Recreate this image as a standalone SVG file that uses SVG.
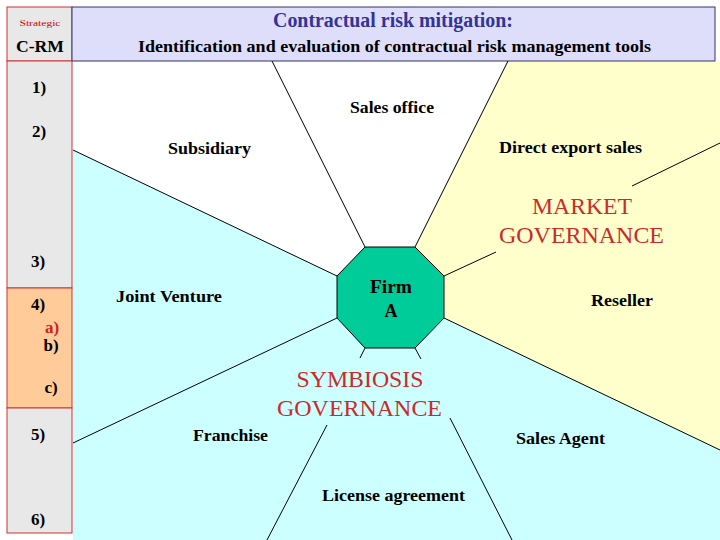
<svg xmlns="http://www.w3.org/2000/svg" width="720" height="540" viewBox="0 0 720 540" font-family="'Liberation Serif', 'Times New Roman', 'DejaVu Serif', serif">
<style>
text{font-family:'Liberation Serif', 'Times New Roman', 'DejaVu Serif', serif;}
.b{font-weight:bold;fill:#000;font-size:17px;}
.n{font-weight:bold;fill:#000;font-size:17px;text-anchor:middle;}
.gov{fill:#cc2a2a;font-size:23px;text-anchor:middle;}
.ln{stroke:#000;stroke-width:1;fill:none;}
</style>
<rect x="0" y="0" width="720" height="540" fill="#ffffff"/>
<g id="regions">
<polygon points="73,61 508,61 415,247 365,247 337,276 73,150" fill="#ffffff"/>
<polygon points="508,61 720,61 720,450 444,318 444,276 415,247" fill="#ffffcc"/>
<polygon points="73,150 337,276 337,318 365,348 415,348 444,318 720,450 720,540 73,540" fill="#ccffff"/>
</g>
<g id="header">
<rect x="7" y="7" width="65" height="54" fill="#e8e8e8" stroke="#cc3333" stroke-width="1"/>
<rect x="72" y="7" width="643" height="54" fill="#dedefa" stroke="#333366" stroke-width="1"/>
<text x="40" y="26" text-anchor="middle" font-size="9" fill="#cc0000" textLength="41" lengthAdjust="spacingAndGlyphs">Strategic</text>
<text x="40" y="52" text-anchor="middle" font-size="17" font-weight="bold" fill="#000" textLength="48" lengthAdjust="spacingAndGlyphs">C-RM</text>
<text x="393" y="27" text-anchor="middle" font-size="20" font-weight="bold" fill="#333399" textLength="240" lengthAdjust="spacingAndGlyphs">Contractual risk mitigation:</text>
<text x="394.5" y="52" text-anchor="middle" font-size="16" font-weight="bold" fill="#000" textLength="513" lengthAdjust="spacingAndGlyphs">Identification and evaluation of contractual risk management tools</text>
</g>
<g id="steps">
<rect x="7" y="61" width="65" height="227" fill="#e8e8e8" stroke="#cc3333" stroke-width="1"/>
<rect x="7" y="288" width="65" height="120" fill="#ffcc99" stroke="#cc3333" stroke-width="1"/>
<rect x="7" y="408" width="65" height="125" fill="#e8e8e8" stroke="#cc3333" stroke-width="1"/>
<text class="n" x="39" y="93">1)</text>
<text class="n" x="39" y="137">2)</text>
<text class="n" x="38" y="267">3)</text>
<text class="n" x="38" y="310">4)</text>
<text class="n" x="52" y="333" style="fill:#cc2222">a)</text>
<text class="n" x="51" y="351">b)</text>
<text class="n" x="51" y="393">c)</text>
<text class="n" x="38" y="440">5)</text>
<text class="n" x="38" y="525">6)</text>
</g>
<g id="connectors" class="ln">
<line x1="365" y1="247" x2="272" y2="61"/>
<line x1="415" y1="247" x2="508" y2="61"/>
<line x1="337" y1="276" x2="73" y2="150"/>
<line x1="337" y1="318" x2="73" y2="443"/>
<line x1="444" y1="318" x2="720" y2="450"/>
<line x1="444" y1="276" x2="496" y2="252"/>
<line x1="632" y1="186" x2="720" y2="143"/>
<line x1="365" y1="348" x2="360" y2="358"/>
<line x1="415" y1="348" x2="421" y2="359"/>
<line x1="327" y1="425" x2="267" y2="540"/>
<line x1="450" y1="418" x2="512" y2="540"/>
</g>
<g id="firm">
<polygon points="365,247 415,247 444,276 444,318 415,348 365,348 337,318 337,276" fill="#00cc99" stroke="#000" stroke-width="1"/>
<text x="391" y="293" text-anchor="middle" font-size="18" font-weight="bold" fill="#000" textLength="42" lengthAdjust="spacingAndGlyphs">Firm</text>
<text x="391" y="317" text-anchor="middle" font-size="18" font-weight="bold" fill="#000">A</text>
</g>
<g id="sales-office"><text class="b" x="350" y="113" textLength="84" lengthAdjust="spacingAndGlyphs">Sales office</text></g>
<g id="subsidiary"><text class="b" x="168" y="154" textLength="83" lengthAdjust="spacingAndGlyphs">Subsidiary</text></g>
<g id="direct-export"><text class="b" x="499" y="153" textLength="143" lengthAdjust="spacingAndGlyphs">Direct export sales</text></g>
<g id="market-governance">
<text class="gov" x="582" y="214" textLength="100" lengthAdjust="spacingAndGlyphs">MARKET</text>
<text class="gov" x="581.5" y="243" textLength="165" lengthAdjust="spacingAndGlyphs">GOVERNANCE</text>
</g>
<g id="reseller"><text class="b" x="591" y="306" textLength="62" lengthAdjust="spacingAndGlyphs">Reseller</text></g>
<g id="joint-venture"><text class="b" x="116" y="302" textLength="106" lengthAdjust="spacingAndGlyphs">Joint Venture</text></g>
<g id="symbiosis-governance">
<text class="gov" x="360" y="387" textLength="127" lengthAdjust="spacingAndGlyphs">SYMBIOSIS</text>
<text class="gov" x="359.5" y="416" textLength="165" lengthAdjust="spacingAndGlyphs">GOVERNANCE</text>
</g>
<g id="franchise"><text class="b" x="193" y="441" textLength="75" lengthAdjust="spacingAndGlyphs">Franchise</text></g>
<g id="sales-agent"><text class="b" x="516" y="444" textLength="89" lengthAdjust="spacingAndGlyphs">Sales Agent</text></g>
<g id="license"><text class="b" x="322" y="501" textLength="143" lengthAdjust="spacingAndGlyphs">License agreement</text></g>
</svg>
